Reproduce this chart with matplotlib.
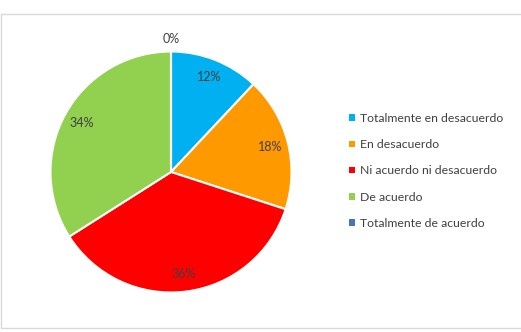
import matplotlib.pyplot as plt
from matplotlib.patches import Rectangle, Patch

plt.rcParams['font.family'] = ['Lato', 'DejaVu Sans']

categorias = ['Totalmente en desacuerdo', 'En desacuerdo', 'Ni acuerdo ni desacuerdo',
              'De acuerdo', 'Totalmente de acuerdo']
porcentajes = [12, 18, 36, 34, 0]
colores = ['#00B0F0', '#FF9900', '#FF0000', '#92D050', '#4472C4']

W, H = 521, 332
fig = plt.figure(figsize=(W / 100, H / 100), dpi=100)

# marco gris del gráfico
fig.patches.append(Rectangle((1 / W, 1 - 328 / H), 1.0, (328 - 14) / H,
                             transform=fig.transFigure, fill=False,
                             edgecolor='#D9D9D9', linewidth=1))

cx, cy, r = 171, 172, 120.5
ax = fig.add_axes([(cx - r) / W, (H - cy - r) / H, 2 * r / W, 2 * r / H])
wedges, textos, autotextos = ax.pie(
    porcentajes, colors=colores, startangle=90, counterclock=False,
    autopct='%1.0f%%', pctdistance=0.85,
    wedgeprops=dict(edgecolor='white', linewidth=1.5),
    textprops=dict(color='#404040', fontsize=9))
# la etiqueta del 0% va fuera, arriba
autotextos[-1].set_position((0, 1.1))
ax.set_xlim(-1, 1)
ax.set_ylim(-1, 1)
ax.set_aspect('equal')

handles = [Patch(facecolor=c, edgecolor='none') for c in colores]
fig.legend(handles, categorias, loc='center left',
           bbox_to_anchor=(349 / W, 1 - 171 / H), frameon=False,
           borderpad=0, borderaxespad=0,
           fontsize=8.8, labelcolor='#404040', handlelength=0.45,
           handleheight=0.45, handletextpad=0.45, labelspacing=1.25)

fig.savefig('out.png', dpi=100)
